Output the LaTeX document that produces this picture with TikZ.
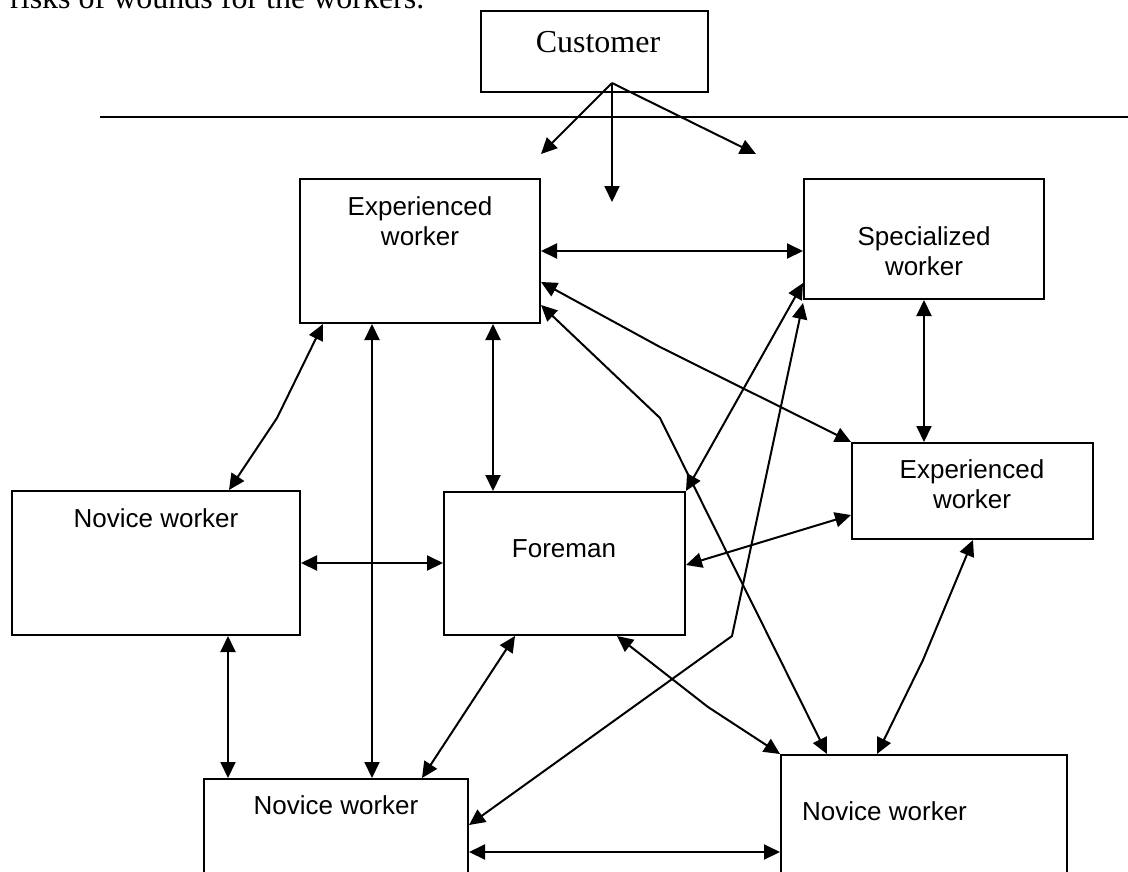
\documentclass[tikz,border=0pt]{standalone}
\usepackage{fontspec}
\setmainfont{Liberation Serif}
\newfontfamily\arialf{Liberation Sans}
\usetikzlibrary{arrows.meta}
\begin{document}
\begin{tikzpicture}[x=1pt,y=-1pt,
  box/.style={draw, line width=2pt, rectangle, inner sep=0pt},
  lab/.style={font=\arialf\fontsize{26}{30}\selectfont, inner sep=0pt, anchor=base},
  serif/.style={font=\fontsize{32}{36}\selectfont, inner sep=0pt, anchor=base},
  link/.style={line width=2pt, {Triangle[length=16pt,width=15pt]}-{Triangle[length=16pt,width=15pt]}},
  one/.style={line width=2pt, -{Triangle[length=16pt,width=15pt]}}]
\useasboundingbox (0,0) rectangle (1128,871);
\clip (0,0) rectangle (1128,871);

% top text (cut by the page edge, as in the reference)
\node[serif, anchor=base west] (intro) at (10,8) {risks of wounds for the workers.};

% boxes
\node[box, minimum width=227pt, minimum height=81pt] (cust) at (594.5,51.5) {};
\node[box, minimum width=240pt, minimum height=144pt] (exp1) at (420,251) {};
\node[box, minimum width=240pt, minimum height=120pt] (spec) at (924,239) {};
\node[box, minimum width=241pt, minimum height=96pt] (exp2) at (972.5,491) {};
\node[box, minimum width=288pt, minimum height=144pt] (nov1) at (156,563) {};
\node[box, minimum width=241pt, minimum height=143pt] (fore) at (564.5,563.5) {};
\node[box, minimum width=264pt, minimum height=200pt] (nov2) at (336,879) {};
\node[box, minimum width=286pt, minimum height=200pt] (nov3) at (924,855) {};

% texts
\node[serif] (custt) at (598,52) {Customer};
\node[lab] (exp1a) at (420,215) {Experienced};
\node[lab] (exp1b) at (420,245) {worker};
\node[lab] (speca) at (924,245) {Specialized};
\node[lab] (specb) at (924,275) {worker};
\node[lab] (exp2a) at (972,478) {Experienced};
\node[lab] (exp2b) at (972,508) {worker};
\node[lab] (nov1t) at (156,527) {Novice worker};
\node[lab] (foret) at (564,557) {Foreman};
\node[lab] (nov2t) at (336,814) {Novice worker};
\node[lab, anchor=base west] (nov3t) at (802,820) {Novice worker};

% separator line
\coordinate (hl1) at (100,117);
\coordinate (hl2) at (1128,117);
\draw[line width=2pt] (hl1) -- (hl2);

% customer arrows
\coordinate (cpt) at (612,83);
\coordinate (ca1) at (541,154);
\coordinate (ca2) at (612,202);
\coordinate (ca3) at (756,154);
\draw[one] (cpt) -- (ca1);
\draw[one] (cpt) -- (ca2);
\draw[one] (cpt) -- (ca3);

% bend points
\coordinate (b1) at (660,347);
\coordinate (b2) at (660,418);
\coordinate (b3) at (732,636);
\coordinate (b4) at (923,660);
\coordinate (b5) at (277,418);
\coordinate (b6) at (708,707);

% connectors
\draw[link] (exp1.east |- 0,251) -- (spec.west |- 0,251);
\draw[link] (exp1.east |- 0,282) -- (b1) -- (exp2.north west);
\draw[link] (exp1.east |- 0,305) -- (b2) -- (nov3.north -| 827,0);
\draw[link] (spec.west |- 0,283) -- (fore.north east);
\draw[link] (spec.west |- 0,303) -- (b3) -- (nov2.east |- 0,825);
\draw[link] (spec.south) -- (spec.south |- exp2.north);
\draw[link] (exp2.south -| 973,0) -- (b4) -- (nov3.north -| 877,0);
\draw[link] (fore.east |- 0,565) -- (exp2.west |- 0,515);
\draw[link] (exp1.south -| 323,0) -- (b5) -- (nov1.north -| 229,0);
\draw[link] (exp1.south -| 372,0) -- (nov2.north -| 372,0);
\draw[link] (exp1.south -| 493,0) -- (fore.north -| 493,0);
\draw[link] (nov1.east |- 0,563) -- (fore.west |- 0,563);
\draw[link] (nov1.south -| 228,0) -- (nov2.north -| 228,0);
\draw[link] (fore.south -| 515,0) -- (nov2.north -| 422,0);
\draw[link] (fore.south -| 617,0) -- (b6) -- (nov3.north west);
\draw[link] (nov2.east |- 0,852) -- (nov3.west |- 0,852);
\end{tikzpicture}
\end{document}
